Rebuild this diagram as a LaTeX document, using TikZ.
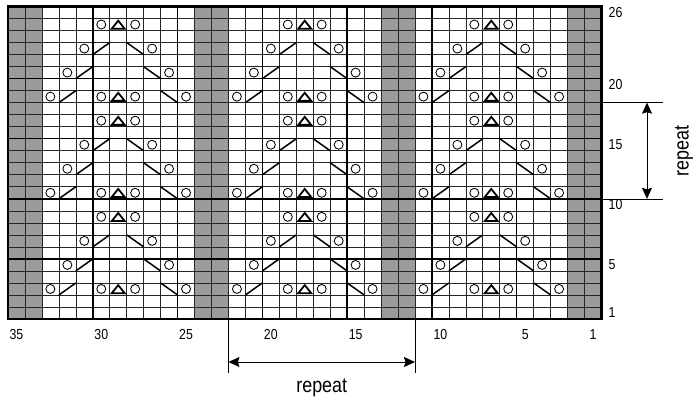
\documentclass[tikz,border=0pt]{standalone}
\usepackage{fontspec}
\setmainfont{Liberation Sans}
\newfontfamily\labfont[FakeStretch=0.85]{Liberation Sans}
\usetikzlibrary{arrows.meta}
\definecolor{shadecol}{RGB}{155,155,158}
\begin{document}
\begin{tikzpicture}[x=16.957pt,y=12.019pt,
  thinline/.style={line width=0.65pt,black!85},
  boldline/.style={line width=1.5pt,black},
  borderline/.style={line width=2.2pt,black},
  yo/.style={line width=0.85pt,black},
  dec/.style={line width=1.5pt,black},
  tri/.style={line width=1.8pt,black,line join=miter},
  numlab/.style={inner sep=0pt,font=\fontsize{14.5}{14.5}\labfont},
  replab/.style={inner sep=0pt,font=\fontsize{21}{21}\labfont},
  reparrow/.style={line width=0.7pt,{Stealth[length=11pt,width=10pt,inset=1.5pt]}-{Stealth[length=11pt,width=10pt,inset=1.5pt]}},
  repline/.style={line width=0.6pt}]
\useasboundingbox (-8pt,-89pt) rectangle (685pt,319pt);
% shaded columns
\foreach \j in {0,1,11,12,22,23,33,34} \fill[shadecol] (\j,0) rectangle ++(1,26);
% grid
\foreach \j in {1,...,34} \draw[thinline] (\j,0) -- (\j,26);
\foreach \r in {1,...,25} \draw[thinline] (0,\r) -- (35,\r);
\foreach \j in {5,10,...,30} \draw[boldline] (\j,0) -- (\j,26);
\foreach \r in {5,10,15,20} \draw[boldline] (0,\r) -- (35,\r);
\draw[borderline] (0,0) rectangle (35,26);
% symbols
\foreach \c in {6,17,28} {
  \foreach \b in {3,11,19} {
    % row b
    \foreach \k in {-4,-1,1,4} \draw[yo] (\c+\k+0.5,\b-0.5) circle[radius=4.5pt];
    \draw[dec] (\c-3,\b-1) -- (\c-2,\b);
    \draw[dec] (\c+3,\b) -- (\c+4,\b-1);
    \draw[tri] (\c+0.12,\b-0.85) -- (\c+0.88,\b-0.85) -- (\c+0.5,\b-0.18) -- cycle;
    % row b+2
    \foreach \k in {-3,3} \draw[yo] (\c+\k+0.5,\b+1.5) circle[radius=4.5pt];
    \draw[dec] (\c-2,\b+1) -- (\c-1,\b+2);
    \draw[dec] (\c+2,\b+2) -- (\c+3,\b+1);
    % row b+4
    \foreach \k in {-2,2} \draw[yo] (\c+\k+0.5,\b+3.5) circle[radius=4.5pt];
    \draw[dec] (\c-1,\b+3) -- (\c,\b+4);
    \draw[dec] (\c+1,\b+4) -- (\c+2,\b+3);
    % row b+6
    \foreach \k in {-1,1} \draw[yo] (\c+\k+0.5,\b+5.5) circle[radius=4.5pt];
    \draw[tri] (\c+0.12,\b+5.15) -- (\c+0.88,\b+5.15) -- (\c+0.5,\b+5.82) -- cycle;
  }
}
% column labels
\foreach \i/\t in {0/35,5/30,10/25,15/20,20/15,25/10,30/5,34/1}
  \node[numlab,yshift=-16pt] (col\t) at (\i+0.5,0) {\t};
% row labels
\foreach \r in {1,5,10,15,20,26}
  \node[numlab,anchor=west,xshift=7pt] (row\r) at (35,\r-0.5) {\r};
% bottom repeat
\coordinate (bl) at (13,0);
\coordinate (br) at (24,0);
\coordinate (blb) at ([yshift=-54pt]bl);
\coordinate (brb) at ([yshift=-54pt]br);
\coordinate (bal) at ([yshift=-43pt]bl);
\coordinate (bar) at ([yshift=-43pt]br);
\draw[repline] (bl) -- (blb);
\draw[repline] (br) -- (brb);
\draw[reparrow] (bal) -- (bar);
\node[replab,yshift=-69pt] (reptextb) at (18.5,0) {repeat};
% right repeat
\coordinate (rt) at (35,18);
\coordinate (rb) at (35,10);
\coordinate (rte) at ([xshift=61.5pt]rt);
\coordinate (rbe) at ([xshift=61.5pt]rb);
\coordinate (rat) at ([xshift=45.5pt]rt);
\coordinate (rab) at ([xshift=45.5pt]rb);
\draw[repline] (rt) -- (rte);
\draw[repline] (rb) -- (rbe);
\draw[reparrow] (rat) -- (rab);
\node[replab,rotate=90] (reptextr) at ([xshift=82.5pt]35,14) {repeat};
\end{tikzpicture}
\end{document}
